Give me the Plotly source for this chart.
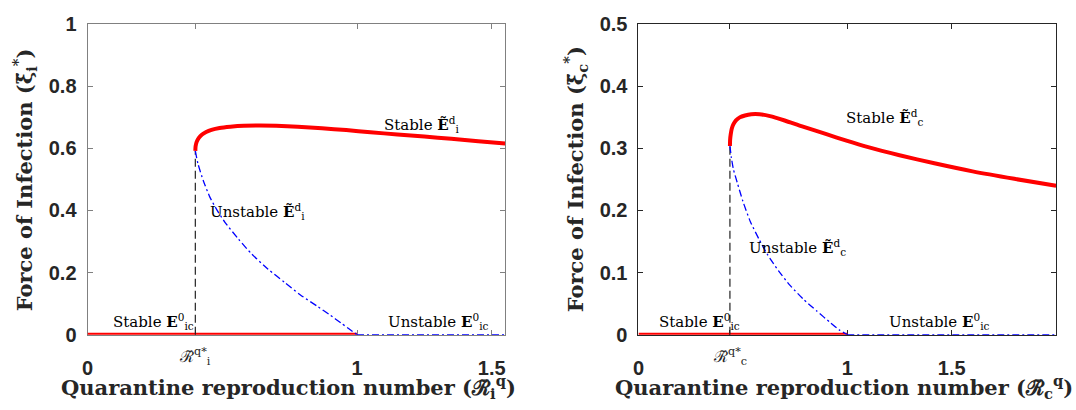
import plotly.graph_objects as go

# ---- left panel: intermediate infectious class ----
ri_star = 0.40
ri_stable_x = [0.400, 0.401, 0.405, 0.413, 0.425, 0.44, 0.46, 0.49, 0.53, 0.58, 0.64, 0.70,
               0.78, 0.87, 0.96, 1.05, 1.15, 1.25, 1.35, 1.45, 1.55]
ri_stable_y = [0.592, 0.607, 0.621, 0.634, 0.645, 0.653, 0.660, 0.666, 0.670, 0.673, 0.674, 0.673,
               0.670, 0.665, 0.659, 0.652, 0.645, 0.638, 0.631, 0.623, 0.616]
ri_unstable_x = [0.400, 0.41, 0.43, 0.454, 0.48, 0.51, 0.56, 0.609, 0.67, 0.732, 0.79,
                 0.855, 0.90, 0.94, 0.97, 1.0]
ri_unstable_y = [0.592, 0.55, 0.495, 0.443, 0.402, 0.362, 0.308, 0.260, 0.211, 0.168, 0.128,
                 0.090, 0.063, 0.038, 0.019, 0.0]
ri_xmax = 1.55
ri_yticks = [0, 0.2, 0.4, 0.6, 0.8, 1]

# ---- right panel: chronic infectious class ----
rc_star = 0.438
rc_stable_x = [0.438, 0.439, 0.442, 0.447, 0.455, 0.467, 0.485, 0.51, 0.54, 0.58, 0.63, 0.70,
               0.78, 0.9, 1.0, 1.1, 1.25, 1.417, 1.6, 1.8, 2.0]
rc_stable_y = [0.304, 0.314, 0.323, 0.332, 0.339, 0.345, 0.350, 0.353, 0.355, 0.355, 0.352, 0.345,
               0.336, 0.323, 0.312, 0.302, 0.289, 0.276, 0.263, 0.251, 0.240]
rc_unstable_x = [0.438, 0.445, 0.455, 0.473, 0.50, 0.536, 0.58, 0.616, 0.67, 0.727, 0.79,
                 0.854, 0.92, 0.96, 1.0]
rc_unstable_y = [0.304, 0.285, 0.266, 0.245, 0.215, 0.182, 0.152, 0.130, 0.103, 0.079, 0.057,
                 0.038, 0.019, 0.008, 0.0]
rc_xmax = 2.0
rc_yticks = [0, 0.1, 0.2, 0.3, 0.4, 0.5]

RED = "#ff0000"
BLUE = "#0000ff"
SERIF = "DejaVu Serif"
TXT = "#262626"
DASHDOT = "7px,3px,2px,3px"

fig = go.Figure()


def add_panel(xa, ya, star, sx, sy, ux, uy, xmax):
    # disease-free branch: stable below threshold, unstable above
    fig.add_trace(go.Scatter(x=[0, 1], y=[0, 0], mode="lines", xaxis=xa, yaxis=ya,
                             line=dict(color=RED, width=4), cliponaxis=False,
                             showlegend=False, hoverinfo="skip"))
    fig.add_trace(go.Scatter(x=[1, xmax], y=[0, 0], mode="lines", xaxis=xa, yaxis=ya,
                             line=dict(color=BLUE, width=1.5, dash=DASHDOT),
                             cliponaxis=False, showlegend=False, hoverinfo="skip"))
    # threshold marker
    fig.add_trace(go.Scatter(x=[star, star], y=[0, sy[0]], mode="lines", xaxis=xa, yaxis=ya,
                             line=dict(color="#222222", width=1.2, dash="8px,4px"),
                             showlegend=False, hoverinfo="skip"))
    # endemic branches
    fig.add_trace(go.Scatter(x=ux, y=uy, mode="lines", xaxis=xa, yaxis=ya,
                             line=dict(color=BLUE, width=1.3, dash=DASHDOT,
                                       shape="spline", smoothing=0.6),
                             showlegend=False, hoverinfo="skip"))
    fig.add_trace(go.Scatter(x=sx, y=sy, mode="lines", xaxis=xa, yaxis=ya,
                             line=dict(color=RED, width=4, shape="spline", smoothing=0.6),
                             cliponaxis=False, showlegend=False, hoverinfo="skip"))


add_panel("x", "y", ri_star, ri_stable_x, ri_stable_y, ri_unstable_x, ri_unstable_y, ri_xmax)
add_panel("x2", "y2", rc_star, rc_stable_x, rc_stable_y, rc_unstable_x, rc_unstable_y, rc_xmax)

tickfont = dict(family="Liberation Sans", size=20, weight="bold", color=TXT)


def xaxis(domain, xmax, star, color):
    return dict(domain=domain, range=[0, xmax], showgrid=False, zeroline=False,
                showline=True, mirror="ticks", linecolor=color, linewidth=1,
                ticks="inside", ticklen=5, tickcolor=color, tickwidth=1,
                tickvals=[0, star, 1, 1.5], ticktext=["0", "", "1", "1.5"],
                tickfont=tickfont, ticklabelstandoff=15, layer="below traces")


def yaxis(domain, ticks, anchor, color):
    return dict(domain=domain, range=[0, ticks[-1]], showgrid=False, zeroline=False,
                showline=True, mirror="ticks", linecolor=color, linewidth=1,
                ticks="inside", ticklen=5, tickcolor=color, tickwidth=1,
                tickvals=ticks, ticktext=[f"{t:g}" for t in ticks],
                tickfont=tickfont, ticklabelstandoff=6, layer="below traces",
                anchor=anchor)


W, H = 1076, 410
ydom = [(H - 342) / H, (H - 14) / H]
fig.update_layout(
    width=W, height=H, margin=dict(l=0, r=0, t=0, b=0),
    paper_bgcolor="white", plot_bgcolor="white",
    xaxis=xaxis([82 / W, 502 / W], ri_xmax, ri_star, "#808080"),
    yaxis=yaxis(ydom, ri_yticks, "x", "#808080"),
    xaxis2=dict(xaxis([636 / W, 1056 / W], rc_xmax, rc_star, "#262626"), anchor="y2"),
    yaxis2=yaxis(ydom, rc_yticks, "x2", "#262626"),
)

lab = dict(family=SERIF, size=15, color="black")
ann = []


def note(text, x, y, xr, yr, **kw):
    d = dict(text=text, x=x, y=y, xref=xr, yref=yr, showarrow=False, font=lab,
             xanchor="center", yanchor="middle")
    d.update(kw)
    ann.append(d)


# left panel labels
note("Stable <b>E</b><sup>0</sup><sub>ic</sub>", 0.245, 0.043, "x", "y")
note("Unstable <b>E</b><sup>0</sup><sub>ic</sub>", 1.30, 0.043, "x", "y")
note("Unstable <b>Ẽ</b><sup>d</sup><sub>i</sub>", 0.63, 0.396, "x", "y")
note("Stable <b>Ẽ</b><sup>d</sup><sub>i</sub>", 1.24, 0.677, "x", "y")
note("ℛ̃<sup>q*</sup><sub>i</sub>", ri_star, (H - 365) / H, "x", "paper",
     font=dict(family=SERIF, size=16, color=TXT))

# right panel labels
note("Stable <b>E</b><sup>0</sup><sub>ic</sub>", 0.29, 0.0215, "x2", "y2")
note("Unstable <b>E</b><sup>0</sup><sub>ic</sub>", 1.44, 0.0215, "x2", "y2")
note("Unstable <b>Ẽ</b><sup>d</sup><sub>c</sub>", 0.763, 0.140, "x2", "y2")
note("Stable <b>Ẽ</b><sup>d</sup><sub>c</sub>", 1.18, 0.349, "x2", "y2")
note("ℛ̃<sup>q*</sup><sub>c</sub>", rc_star, (H - 365) / H, "x2", "paper",
     font=dict(family=SERIF, size=16, color=TXT))

# axis titles
title_font = dict(family=SERIF, size=21, weight="bold", color=TXT)
note("Quarantine reproduction number (ℛ̃<sub>i</sub><sup>q</sup>)", 284 / W, (H - 397) / H,
     "paper", "paper", font=title_font)
note("Quarantine reproduction number (ℛ̃<sub>c</sub><sup>q</sup>)", 843 / W, (H - 397) / H,
     "paper", "paper", font=title_font)
note("Force of Infection (ξ̈<sub>i</sub><sup>*</sup>)", 19 / W, (H - 178) / H,
     "paper", "paper", font=title_font, textangle=-90)
note("Force of Infection (ξ̈<sub>c</sub><sup>*</sup>)", 573 / W, (H - 178) / H,
     "paper", "paper", font=title_font, textangle=-90)

fig.update_layout(annotations=ann)
fig.write_html("out.html")
